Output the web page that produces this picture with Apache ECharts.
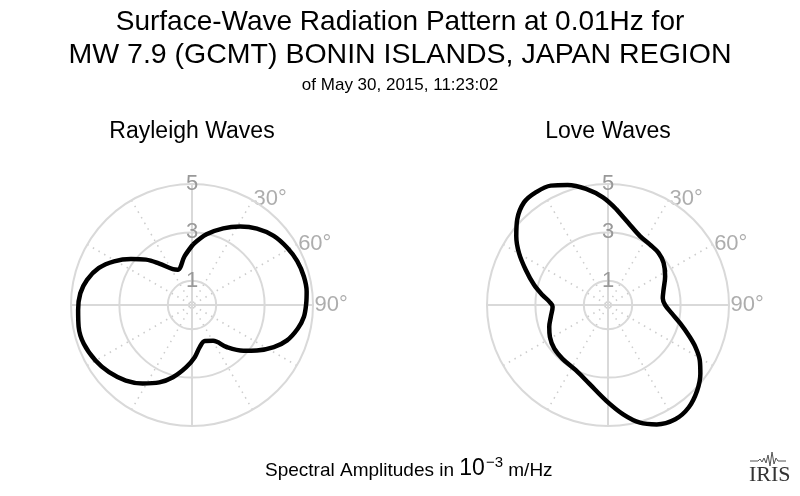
<!DOCTYPE html>
<html>
<head>
<meta charset="utf-8">
<script src="https://cdn.jsdelivr.net/npm/echarts@6/dist/echarts.min.js"></script>
<style>html,body{margin:0;padding:0;background:#fff;}#c{width:800px;height:496px;}</style>
</head>
<body>
<div id="c"></div>
<script>
// ---- data ----
const rayleighAzimuth = [0.95, 11.6, 22.2, 31.5, 40.4, 49.8, 59.0, 67.4, 75.7, 83.3, 89.2, 96, 102.5, 110.4, 117.2, 125, 131.6, 140.5, 149.5, 160.4, 169.6, 177, 185.3, 194.8, 202.9, 212.2, 221.2, 231, 240.1, 250.3, 259.1, 267.5, 276, 283.5, 291.7, 299.3, 307, 314.6, 321.7, 331.9, 338.2, 351.4];
const rayleighAmplitude = [2.50, 2.98, 3.42, 3.80, 4.14, 4.42, 4.59, 4.71, 4.77, 4.77, 4.72, 4.65, 4.48, 4.19, 3.80, 3.27, 2.84, 2.25, 1.72, 1.58, 1.77, 2.16, 2.58, 3.09, 3.47, 3.83, 4.15, 4.41, 4.60, 4.75, 4.77, 4.71, 4.64, 4.46, 4.14, 3.69, 3.16, 2.67, 2.18, 1.68, 1.57, 2.04];
const loveAzimuth = [5.0, 13.8, 24.9, 34.8, 44.1, 52.9, 63.4, 74.7, 83, 90, 97.5, 104.3, 110.6, 115.7, 121.1, 126.7, 133.9, 141.8, 149.5, 157.8, 164.8, 172.1, 181, 193.2, 206, 220.2, 230.9, 241.2, 249.6, 258.4, 268.3, 273.3, 278.7, 285.3, 293.2, 300.3, 306.9, 313.4, 320.7, 327.3, 334.4, 341.4, 349.3, 357.3];
const loveAmplitude = [3.97, 3.50, 3.14, 3.04, 3.00, 2.88, 2.64, 2.38, 2.28, 2.36, 2.66, 3.08, 3.56, 4.01, 4.43, 4.76, 5.11, 5.39, 5.48, 5.33, 5.04, 4.56, 3.96, 3.35, 3.01, 2.91, 2.86, 2.74, 2.59, 2.41, 2.29, 2.43, 2.74, 3.17, 3.70, 4.26, 4.74, 5.16, 5.48, 5.53, 5.47, 5.23, 4.88, 4.45];
const radiusTickLabels = [1, 3, 5];
const angleTickLabels = [30, 60, 90];
const panelTitles = ['Rayleigh Waves', 'Love Waves'];

// ---- build ----
const GRID = '#d9d9d9';
const DOT = '#cccccc';
const LABEL = '#999999';
const FONT = '"Liberation Sans", Arial, Helvetica, sans-serif';
const centers = [[192, 305], [608, 305]];
const R = 121;          // pixel radius of amplitude 5
const RMAX = 5;
const DATA_MAX = 6;     // data polar extends further so lobes beyond 5 are not clipped

function toPolarData(az, amp) {
  const d = az.map((a, i) => [amp[i], a]);
  d.push(d[0].slice());
  return d;
}

const polar = [], angleAxis = [], radiusAxis = [], series = [];
const hiddenAngle = (pi, interval) => ({
  polarIndex: pi, type: 'value', min: 0, max: 360, interval: interval,
  startAngle: 90, clockwise: true,
  axisLine: { show: false }, axisTick: { show: false }, axisLabel: { show: false }
});

centers.forEach((c, k) => {
  // grid polar: dotted 30° spokes + circles 1,3,5 + radius labels
  polar.push({ center: c, radius: R });
  let pi = polar.length - 1;
  angleAxis.push(Object.assign(hiddenAngle(pi, 30), {
    splitLine: { show: true, lineStyle: { color: ['rgba(0,0,0,0)', DOT, DOT], width: 1.5, type: [1.5, 5] } }
  }));
  radiusAxis.push({
    polarIndex: pi, type: 'value', min: 0, max: RMAX, interval: 1,
    axisLine: { show: false }, axisTick: { show: false },
    axisLabel: {
      show: true, margin: 0, align: 'center', verticalAlign: 'middle',
      color: LABEL, fontSize: 22, fontFamily: FONT,
      formatter: v => radiusTickLabels.indexOf(v) >= 0 ? String(v) : ''
    },
    splitLine: { show: true, lineStyle: { color: ['rgba(0,0,0,0)', GRID], width: 2 } },
    z: 3
  });
  // overlay polar: solid cross lines
  polar.push({ center: c, radius: R });
  pi = polar.length - 1;
  angleAxis.push(Object.assign(hiddenAngle(pi, 90), {
    splitLine: { show: true, lineStyle: { color: GRID, width: 2 } }
  }));
  radiusAxis.push({
    polarIndex: pi, type: 'value', min: 0, max: RMAX,
    axisLine: { show: false }, axisTick: { show: false }, axisLabel: { show: false },
    splitLine: { show: false }
  });
  // data polar (same scale, larger extent)
  polar.push({ center: c, radius: R * DATA_MAX / RMAX });
  pi = polar.length - 1;
  angleAxis.push(Object.assign(hiddenAngle(pi, 90), { splitLine: { show: false } }));
  radiusAxis.push({
    polarIndex: pi, type: 'value', min: 0, max: DATA_MAX,
    axisLine: { show: false }, axisTick: { show: false }, axisLabel: { show: false },
    splitLine: { show: false }
  });
  series.push({
    type: 'line', coordinateSystem: 'polar', polarIndex: pi,
    data: toPolarData(k === 0 ? rayleighAzimuth : loveAzimuth, k === 0 ? rayleighAmplitude : loveAmplitude),
    smooth: 0.35, showSymbol: false, symbol: 'none', clip: false,
    lineStyle: { color: '#000', width: 4.5 }, z: 5, animation: false
  });
  series.push({
    type: 'scatter', coordinateSystem: 'polar', polarIndex: pi,
    data: angleTickLabels.map(a => [5.04, a]),
    symbolSize: 1, itemStyle: { color: 'rgba(0,0,0,0)' }, silent: true, animation: false,
    label: {
      show: true, position: 'right', distance: 0, color: LABEL, fontSize: 22, fontFamily: FONT,
      formatter: p => p.value[1] + '°'
    }
  });
});

const normal = { fontWeight: 'normal', color: '#000', fontFamily: FONT };
const titles = [
  { text: 'Surface-Wave Radiation Pattern at 0.01Hz for', left: 'center', top: 8, padding: 0,
    textStyle: Object.assign({ fontSize: 28, lineHeight: 28 }, normal) },
  { text: 'MW 7.9 (GCMT) BONIN ISLANDS, JAPAN REGION', left: 'center', top: 41, padding: 0,
    textStyle: Object.assign({ fontSize: 28.5, lineHeight: 28 }, normal) },
  { text: 'of May 30, 2015, 11:23:02', left: 'center', top: 77, padding: 0,
    textStyle: Object.assign({ fontSize: 17, lineHeight: 17 }, normal) },
  { text: panelTitles[0], left: centers[0][0], textAlign: 'center', top: 120, padding: 0,
    textStyle: Object.assign({ fontSize: 23, lineHeight: 23 }, normal) },
  { text: panelTitles[1], left: centers[1][0], textAlign: 'center', top: 120, padding: 0,
    textStyle: Object.assign({ fontSize: 23, lineHeight: 23 }, normal) },
  { text: '{a|Spectral Amplitudes in }{b|10}{c|−3}{a| m/Hz}', left: 265, top: 455, padding: 0,
    textStyle: Object.assign({
      rich: {
        a: Object.assign({ fontSize: 19, lineHeight: 25, verticalAlign: 'bottom' }, normal),
        b: Object.assign({ fontSize: 23, lineHeight: 25, verticalAlign: 'bottom' }, normal),
        c: Object.assign({ fontSize: 15, lineHeight: 25, verticalAlign: 'top', padding: [0, 0, 0, 1] }, normal)
      } }, normal) }
];

const chart = echarts.init(document.getElementById('c'), null, { renderer: 'canvas' });
chart.setOption({
  backgroundColor: '#fff',
  animation: false,
  title: titles,
  polar, angleAxis, radiusAxis, series,
  graphic: [
    { type: 'polyline', silent: true,
      shape: { points: [[750,461],[758,461],[760,459],[762,462],[764,458],[766,463],[768,455],[770,466],[772,452],[774,464],[776,458],[778,461],[786,461]] },
      style: { stroke: '#555', lineWidth: 1, fill: null } },
    { type: 'text', left: 749, top: 464, silent: true,
      style: { text: 'IRIS', fontFamily: '"Liberation Serif", "DejaVu Serif", serif', fontSize: 22, fill: '#333' } }
  ]
});
</script>
</body>
</html>
